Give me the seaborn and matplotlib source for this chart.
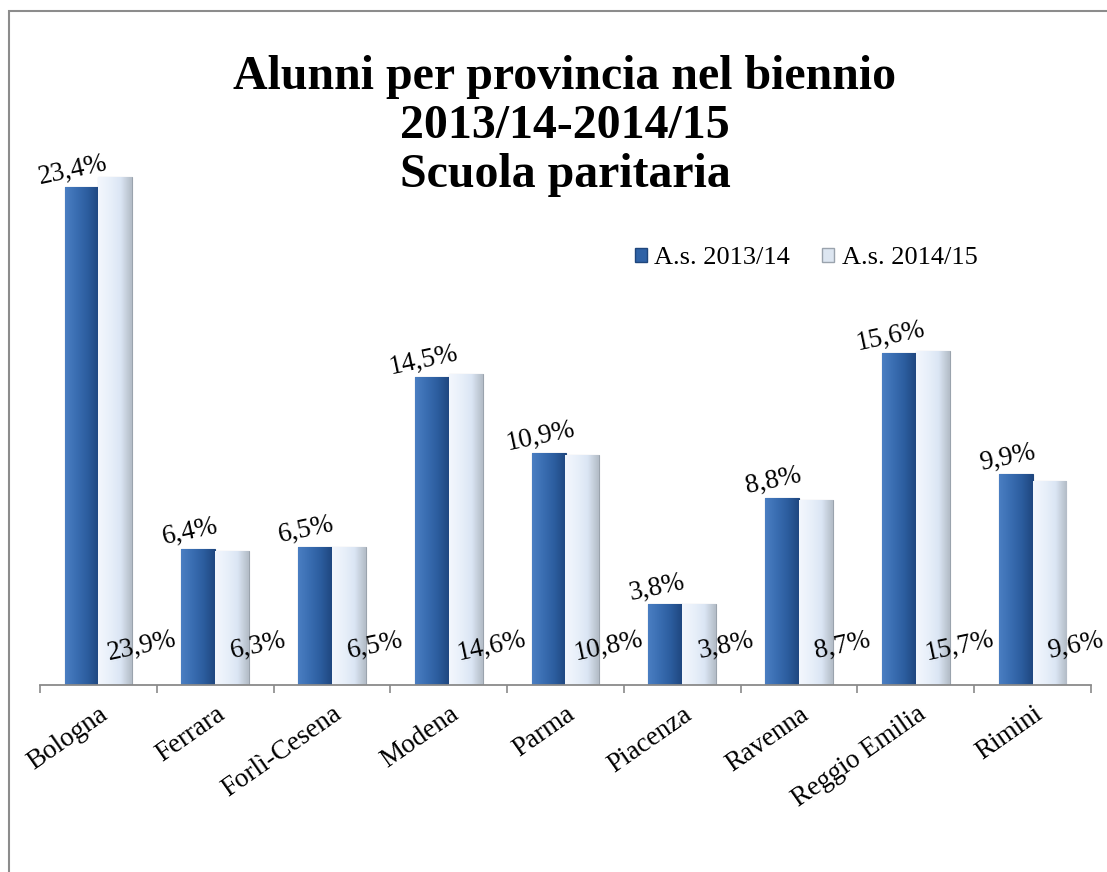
import numpy as np
import pandas as pd
import matplotlib
matplotlib.use("Agg")
import matplotlib.pyplot as plt
import seaborn as sns
from matplotlib.patches import Patch, Rectangle
from matplotlib.colors import LinearSegmentedColormap

province = ["Bologna", "Ferrara", "Forlì-Cesena", "Modena", "Parma",
            "Piacenza", "Ravenna", "Reggio Emilia", "Rimini"]
anni = ["A.s. 2013/14", "A.s. 2014/15"]
val_2013 = [23.4, 6.4, 6.5, 14.5, 10.9, 3.8, 8.8, 15.6, 9.9]
val_2014 = [23.9, 6.3, 6.5, 14.6, 10.8, 3.8, 8.7, 15.7, 9.6]

df = pd.DataFrame({
    "provincia": province * 2,
    "anno": [anni[0]] * len(province) + [anni[1]] * len(province),
    "valore": val_2013 + val_2014,
})

sns.set_style("white")
plt.rcParams["font.family"] = ["Liberation Serif", "DejaVu Serif"]
plt.rcParams["text.color"] = "black"
plt.rcParams["xtick.color"] = "black"

dark = "#2f62a6"
light = "#e6eef9"

fig = plt.figure(figsize=(11.07, 8.72), dpi=100)
ax = fig.add_axes([40 / 1107, 187 / 872, 1051 / 1107, 531.7 / 872])

sns.barplot(data=df, x="provincia", y="valore", hue="anno", order=province,
            hue_order=anni, palette=[dark, light], width=0.58, gap=0,
            edgecolor="none", legend=False, ax=ax)

# gradient fill on the bars
cm_dark = LinearSegmentedColormap.from_list("d", ["#4a7ec2", "#3a6eb2", "#2c5d9f", "#1f4780"])
cm_light = LinearSegmentedColormap.from_list("l", ["#f3f7fd", "#e9f0fa", "#dbe6f4", "#b3bcc7"])
grad = np.linspace(0, 1, 64).reshape(1, -1)
for cont, cmap in zip(ax.containers, [cm_dark, cm_light]):
    for bar in cont:
        x0, w, h = bar.get_x(), bar.get_width(), bar.get_height()
        im = ax.imshow(grad, cmap=cmap, extent=(x0, x0 + w, 0, h),
                       aspect="auto", zorder=2, interpolation="bicubic")
        im.set_clip_path(bar)
    for bar in cont:
        bar.set_edgecolor("#9aa3ad" if cmap is cm_light else "#1f467c")
        bar.set_linewidth(0.8)

ax.set_xlim(-0.5, len(province) - 0.5)
ax.set_ylim(0, 25)

def fmt(v):
    return f"{v:.1f}%".replace(".", ",")

for bar, v in zip(ax.containers[0], val_2013):
    cx = bar.get_x() + bar.get_width() / 2
    ax.annotate(fmt(v), xy=(cx, bar.get_height()), xytext=(-6, 12),
                textcoords="offset points", ha="center", va="center",
                rotation=12, fontsize=19.5, color="black", zorder=5)

for bar, v in zip(ax.containers[1], val_2014):
    cx = bar.get_x() + bar.get_width() / 2
    ax.annotate(fmt(v), xy=(cx, 0), xytext=(19, 28),
                textcoords="offset points", ha="center", va="center",
                rotation=12, fontsize=19.5, color="black", zorder=5)

# axis styling
for s in ["left", "right", "top"]:
    ax.spines[s].set_visible(False)
ax.spines["bottom"].set_color("#8a8a8a")
ax.spines["bottom"].set_linewidth(1.3)
ax.set_yticks([])
ax.set_xlabel("")
ax.set_ylabel("")
ax.set_xticks(range(len(province)))
ax.set_xticklabels(province, rotation=35, ha="right", rotation_mode="anchor",
                   fontsize=19.5)
ax.set_xticks(np.arange(-0.5, len(province), 1), minor=True)
ax.tick_params(axis="x", which="major", length=0, pad=12)
ax.tick_params(axis="x", which="minor", length=6, width=1.2, color="#8a8a8a",
               direction="out", bottom=True)

handles = [Patch(facecolor=dark, edgecolor="#1f467c"),
           Patch(facecolor="#dde6f1", edgecolor="#9aa3ad")]
fig.legend(handles, anni, loc="center", bbox_to_anchor=(806 / 1107, 1 - 258 / 872),
           ncol=2, frameon=False, fontsize=19, handlelength=0.45,
           handleheight=0.45, handletextpad=0.3, columnspacing=1.2)

fig.text(565 / 1107, 1 - 187 / 872,
         "Alunni per provincia nel biennio\n2013/14-2014/15\nScuola paritaria",
         ha="center", va="baseline", fontsize=34.5, fontweight="bold",
         color="black", linespacing=1.15)

frame = Rectangle((9 / 1107, -0.1), 1.2, 1.1 - 11 / 872,
                  transform=fig.transFigure, fill=False,
                  edgecolor="#8c8c8c", linewidth=1.5)
fig.add_artist(frame)

fig.savefig("out.png", dpi=100)
